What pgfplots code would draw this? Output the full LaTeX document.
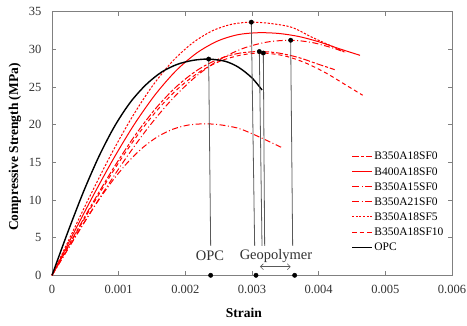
\documentclass[border=0pt]{standalone}
\usepackage{pgfplots}
\pgfplotsset{compat=1.18}
\usepackage{fontspec}
\setmainfont{Liberation Serif}
\usetikzlibrary{arrows.meta}
\definecolor{axgray}{RGB}{128,128,128}
\definecolor{txtgray}{RGB}{50,50,50}
\definecolor{pred}{RGB}{255,0,0}
\newcommand\rl[1]{\rule[-0.5pt]{#1}{1pt}}
\pgfplotsset{
  rleg/.style={legend image code/.code={\node[inner sep=0pt, anchor=west, text=pred] at (0pt,0pt) {\textcolor{pred}{#1}};}},
  bleg/.style={legend image code/.code={\node[inner sep=0pt, anchor=west, text=black] at (0pt,0pt) {\textcolor{black}{\rule[-0.7pt]{20pt}{1.4pt}}};}},
}
\begin{document}
\begin{tikzpicture}
\useasboundingbox (-52pt,-49.7pt) rectangle (415pt,275.3pt);
\begin{axis}[
  scale only axis, width=400pt, height=263.7pt,
  at={(0pt,0pt)}, anchor=south west,
  xmin=0, xmax=0.006, ymin=0, ymax=35,
  xtick={0,0.001,0.002,0.003,0.004,0.005,0.006},
  xticklabels={0,0.001,0.002,0.003,0.004,0.005,0.006},
  scaled x ticks=false,
  ytick={0,5,10,15,20,25,30,35},
  /pgf/number format/assume math mode=true,
  tick align=inside, major tick length=4pt,
  axis line style={axgray, line width=0.8pt},
  every tick/.style={axgray, line width=0.6pt},
  tick label style={font=\fontsize{12.5}{14}\selectfont, text=txtgray},
  xticklabel style={yshift=-6pt},
  yticklabel style={xshift=-7pt},
  xlabel={Strain}, ylabel={Compressive Strength (MPa)},
  label style={font=\bfseries\fontsize{13.5}{15}\selectfont, text=black},
  xlabel style={at={(axis description cs:0.48,-0.143)}, anchor=center},
  ylabel style={at={(axis description cs:-0.0925,0.4865)}, anchor=center},
  clip=false,
  legend style={draw=none, fill=none, at={(0.75,0.475)}, anchor=north west,
    font=\fontsize{11.5}{13}\selectfont, row sep=2pt, inner sep=0pt},
  legend cell align=left,
]
% B350A18SF0
\addplot[color=pred, line width=1pt, dash pattern=on 7pt off 2pt on 3pt off 2pt, smooth,
  rleg={\rl{7pt}\hspace{2pt}\rl{3pt}\hspace{2pt}\rl{6pt}}] coordinates {
(0,0) (0.000311,4.94) (0.000622,9.78) (0.000933,14.38) (0.001244,18.55) (0.001555,22.14) (0.001866,25.04) (0.002177,27.21) (0.002488,28.66) (0.002799,29.46) (0.00311,29.7) (0.0034,29.5) (0.0037,28.9) (0.0040,28.0) (0.00424,27.3)};
\addlegendentry{B350A18SF0}
% B400A18SF0
\addplot[color=pred, line width=1pt, solid, smooth, rleg={\rl{20pt}}] coordinates {
(0,0) (0.00031,5.35) (0.00062,10.61) (0.00093,15.59) (0.00124,20.11) (0.00155,24.0) (0.00186,27.15) (0.00217,29.5) (0.00248,31.08) (0.00279,31.94) (0.0031,32.2) (0.0034,32.1) (0.0037,31.7) (0.0040,31.0) (0.0043,30.1) (0.00462,29.2)};
\addlegendentry{B400A18SF0}
% B350A15SF0
\addplot[color=pred, line width=1pt, dash pattern=on 6pt off 2.5pt on 1pt off 2.5pt, smooth,
  rleg={\rl{7pt}\hspace{2.5pt}\rl{1pt}\hspace{2.5pt}\rl{7pt}}] coordinates {
(0,0) (0.000227,3.34) (0.000454,6.62) (0.000681,9.73) (0.000908,12.55) (0.001135,14.98) (0.001362,16.95) (0.001589,18.42) (0.001816,19.40) (0.002043,19.94) (0.00227,20.1) (0.0025,20.0) (0.0028,19.5) (0.0031,18.4) (0.00346,16.9)};
\addlegendentry{B350A15SF0}
% B350A21SF0
\addplot[color=pred, line width=1pt, dash pattern=on 6pt off 2.5pt on 1pt off 2.5pt, smooth,
  rleg={\rl{7pt}\hspace{2.4pt}\rl{1.1pt}\hspace{2.5pt}\rl{7pt}}] coordinates {
(0,0) (0.000358,5.19) (0.000716,10.28) (0.001074,15.10) (0.001432,19.48) (0.00179,23.26) (0.002148,26.31) (0.002506,28.59) (0.002864,30.11) (0.003222,30.95) (0.00358,31.2) (0.0039,30.9) (0.0042,30.2) (0.0044,29.6)};
\addlegendentry{B350A21SF0}
% B350A18SF5
\addplot[color=pred, line width=1pt, dash pattern=on 2.2pt off 1.6pt, smooth,
  rleg={\rl{2pt}\hspace{1.6pt}\rl{2pt}\hspace{1.6pt}\rl{2pt}\hspace{1.6pt}\rl{2pt}\hspace{1.6pt}\rl{2pt}\hspace{1.6pt}\rl{2pt}}] coordinates {
(0,0) (0.0003,5.59) (0.0006,11.07) (0.0009,16.27) (0.0012,20.98) (0.0015,25.05) (0.0018,28.33) (0.0021,30.78) (0.0024,32.43) (0.0027,33.33) (0.0030,33.6) (0.0033,33.4) (0.0036,32.9) (0.0039,31.6) (0.0042,30.4) (0.0044,29.6)};
\addlegendentry{B350A18SF5}
% B350A18SF10
\addplot[color=pred, line width=1pt, dash pattern=on 4pt off 3pt, smooth,
  rleg={\rl{4.5pt}\hspace{3pt}\rl{4.5pt}\hspace{3pt}\rl{4.5pt}}] coordinates {
(0,0) (0.000317,4.91) (0.000634,9.72) (0.000951,14.28) (0.001268,18.42) (0.001585,21.99) (0.001902,24.87) (0.002219,27.03) (0.002536,28.47) (0.002853,29.26) (0.00317,29.5) (0.0035,29.1) (0.0038,28.2) (0.0041,26.9) (0.0044,25.3) (0.00466,23.9)};
\addlegendentry{B350A18SF10}
% OPC
\addplot[color=black, line width=1.4pt, solid, smooth, bleg] coordinates {
(0,0) (0.000235,5.68) (0.00047,11.04) (0.000705,15.8) (0.00094,19.8) (0.001175,22.96) (0.00141,25.3) (0.001645,26.98) (0.00188,28.0) (0.002115,28.53) (0.00235,28.7) (0.0026,28.4) (0.0028,27.6) (0.003,26.2) (0.00315,24.6)};
\addlegendentry{OPC}
% vertical lines
\addplot[black!65, line width=0.8pt, forget plot] coordinates {(0.00235,28.7) (0.00238,3.9)};
\addplot[black!65, line width=0.8pt, forget plot] coordinates {(0.00299,33.6) (0.00304,3.9)};
\addplot[black!65, line width=0.8pt, forget plot] coordinates {(0.00311,29.7) (0.00315,3.9)};
\addplot[black!65, line width=0.8pt, forget plot] coordinates {(0.00317,29.5) (0.00319,3.9)};
\addplot[black!65, line width=0.8pt, forget plot] coordinates {(0.00358,31.2) (0.00361,3.9)};
% peak dots
\addplot[only marks, mark=*, mark size=2.2pt, black, forget plot] coordinates {(0.00235,28.7) (0.00299,33.6) (0.00311,29.7) (0.00317,29.5) (0.00358,31.2)};
% axis dots
\addplot[only marks, mark=*, mark size=2.2pt, black, forget plot] coordinates {(0.00238,0) (0.00306,0) (0.00364,0)};
% arrow
\addplot[black!65, line width=0.6pt, {Straight Barb[length=3pt]}-{Straight Barb[length=3pt]}, forget plot] coordinates {(0.00312,1.14) (0.00358,1.14)};
\node[font=\fontsize{14.5}{16}\selectfont, text=txtgray] at (axis cs:0.00237,2.6) {OPC};
\node[font=\fontsize{14.5}{16}\selectfont, text=txtgray] at (axis cs:0.00336,2.6) {Geopolymer};
\end{axis}
\end{tikzpicture}
\end{document}
